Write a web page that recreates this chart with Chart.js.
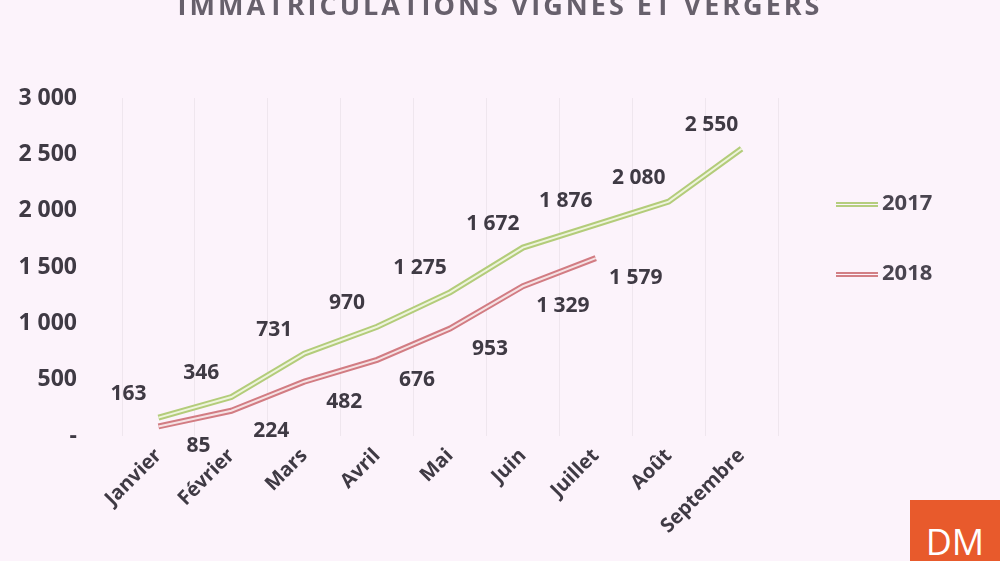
<!DOCTYPE html>
<html>
<head>
<meta charset="utf-8">
<script src="https://cdn.jsdelivr.net/npm/chart.js@4"></script>
<style>
  html, body { margin: 0; padding: 0; background: #fcf3fb; }
  #wrap { position: relative; width: 1000px; height: 561px; overflow: hidden; }
  #title { position: absolute; left: 0; width: 1000px; top: -14px; text-align: center;
    font: bold 27px "Open Sans", sans-serif; letter-spacing: 3px; color: #67606c; }
  .leg { position: absolute; left: 836px; font: bold 22px "Open Sans", sans-serif; color: #4a4550; }
  .leg span { display: inline-block; width: 42px; height: 0; margin-right: 4px; vertical-align: middle; }
  #logo { position: absolute; left: 910px; top: 500px; width: 90px; height: 61px; background: #e85a2c;
    color: #fff; font: 36px "Open Sans", sans-serif; text-align: center; line-height: 84px; }
</style>
</head>
<body>
<div id="wrap">
  <canvas id="chart" width="1000" height="561"></canvas>
  <div id="title">IMMATRICULATIONS VIGNES ET VERGERS</div>
  <div class="leg" style="top:186px"><span style="border-top:2px solid #b5cd7e;border-bottom:2px solid #b5cd7e;height:1px"></span>2017</div>
  <div class="leg" style="top:256px"><span style="border-top:2px solid #d27f85;border-bottom:2px solid #d27f85;height:1px"></span>2018</div>
  <div id="logo">DM</div>
</div>
<script>
// ======================================
// Data
// ======================================

const months = ["Janvier", "Février", "Mars", "Avril", "Mai", "Juin", "Juillet", "Août", "Septembre"];
const values2017 = [163, 346, 731, 970, 1275, 1672, 1876, 2080, 2550];
const values2018 = [85, 224, 482, 676, 953, 1329, 1579];
const yTicks = [0, 500, 1000, 1500, 2000, 2500, 3000];

const fmt = (v) => (v === 0 ? "-" : String(v).replace(/\B(?=(\d{3})+(?!\d))/g, " "));

// ======================================
// Value labels
// ======================================

const labelPlugin = {
  id: "valueLabels",
  afterDatasetsDraw(chart) {
    const ctx = chart.ctx;
    ctx.save();
    ctx.font = "bold 21px 'Open Sans', sans-serif";
    ctx.fillStyle = "#3f3a44";
    ctx.textAlign = "center";
    ctx.textBaseline = "middle";
    [[0, -30, -24], [2, 40, 20]].forEach(([idx, dx, dy]) => {
      const meta = chart.getDatasetMeta(idx);
      const data = chart.data.datasets[idx].data;
      meta.data.forEach((pt, i) => ctx.fillText(fmt(data[i]), pt.x + dx, pt.y + dy));
    });
    ctx.restore();
  },
};

const base = { pointRadius: 0, tension: 0, fill: false };

new Chart(document.getElementById("chart"), {
  type: "line",
  data: {
    labels: months,
    datasets: [
      { ...base, data: values2017, borderColor: "#b3cc7a", borderWidth: 6, order: 2 },
      { ...base, data: values2017, borderColor: "#eef4dc", borderWidth: 2, order: 1 },
      { ...base, data: values2018, borderColor: "#d27c83", borderWidth: 6, order: 2 },
      { ...base, data: values2018, borderColor: "#f5e2e4", borderWidth: 2, order: 1 },
    ],
  },
  options: {
    responsive: false,
    animation: false,
    layout: { padding: { top: 98, right: 222, left: 0, bottom: 0 } },
    plugins: { legend: { display: false }, tooltip: { enabled: false } },
    scales: {
      x: {
        offset: true,
        afterFit: (s) => { s.height = 125; },
        grid: { offset: true, color: "#efe6ee", drawTicks: false },
        border: { display: false },
        ticks: { maxRotation: 45, minRotation: 45, color: "#3f3a44", padding: 8,
          font: { family: "Open Sans", weight: "bold", size: 20 } },
      },
      y: {
        min: 0, max: 3000,
        afterFit: (s) => { s.width = 122; },
        afterBuildTicks: (s) => { s.ticks = yTicks.map((v) => ({ value: v })); },
        grid: { display: false },
        border: { display: false },
        ticks: { color: "#3f3a44", padding: 37, callback: (v) => fmt(v),
          font: { family: "Open Sans", weight: "bold", size: 23 } },
      },
    },
  },
  plugins: [labelPlugin],
});
</script>
</body>
</html>
